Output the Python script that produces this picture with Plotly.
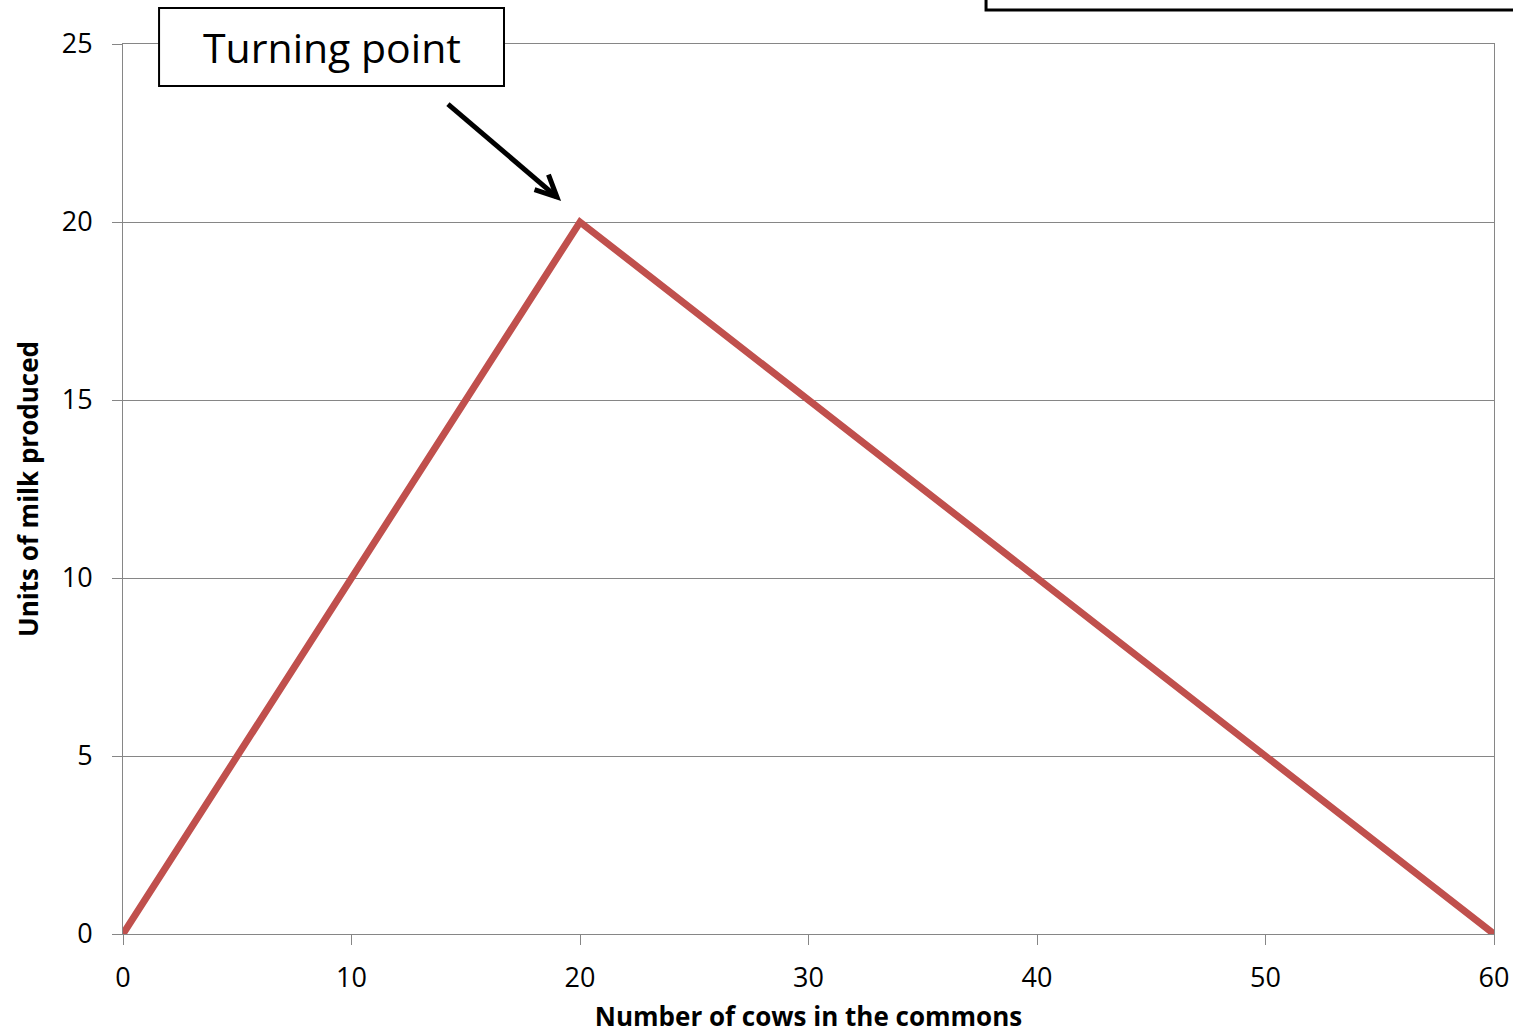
import plotly.graph_objects as go

# Milk output as the herd on the commons grows
cows = [0, 5, 10, 15, 20, 25, 30, 35, 40, 45, 50, 55, 60]
milk = [0, 5, 10, 15, 20, 17.5, 15, 12.5, 10, 7.5, 5, 2.5, 0]

x_ticks = [0, 10, 20, 30, 40, 50, 60]
y_ticks = [0, 5, 10, 15, 20, 25]

peak_label = "Turning point"
x_title = "Number of cows in the commons"
y_title = "Units of milk produced"

FONT = "Open Sans"
GRID = "#868686"

fig = go.Figure()
fig.add_trace(go.Scatter(
    x=cows, y=milk, mode="lines",
    line=dict(color="#C0504D", width=7),
    showlegend=False, hoverinfo="skip",
))

fig.update_xaxes(
    range=[0, 60], tickvals=x_ticks, ticks="outside", ticklen=10,
    tickcolor=GRID, showgrid=False, zeroline=False, automargin=False,
    showline=True, linecolor=GRID, linewidth=1, mirror=True,
    ticklabelstandoff=10,
    tickfont=dict(family=FONT, size=27, color="#000"),
    title=dict(text=f"<b>{x_title}</b>",
               font=dict(family=FONT, size=26, color="#000")),
)
fig.update_yaxes(
    range=[0, 25], tickvals=y_ticks, ticks="outside", ticklen=10,
    tickcolor=GRID, showgrid=True, gridcolor=GRID, gridwidth=1,
    zeroline=False, showline=True, linecolor=GRID, linewidth=1, mirror=True,
    automargin=True, ticklabelstandoff=14,
    tickfont=dict(family=FONT, size=27, color="#000"),
    title=dict(text=f"<b>{y_title}</b>", standoff=15,
               font=dict(family=FONT, size=26, color="#000")),
)

# Arrow pointing at the peak of the curve
tail = (14.22, 23.31)
tip = (18.99, 20.70)
shapes = [
    dict(type="line", xref="x", yref="y", x0=tail[0], y0=tail[1],
         x1=tip[0], y1=tip[1], line=dict(color="#000", width=5)),
    dict(type="path", xref="x", yref="y",
         path=f"M {18.62},{21.33} L {tip[0]},{tip[1]} L {18.01},{20.91}",
         line=dict(color="#000", width=5)),
    # label box for the peak
    dict(type="rect", xref="paper", yref="paper",
         x0=0.0263, x1=0.2779, y0=0.9528, y1=1.0404,
         fillcolor="#fff", line=dict(color="#000", width=2), layer="above"),
    # framed panel at the upper right
    dict(type="rect", xref="paper", yref="paper",
         x0=0.6295, x1=1.05, y0=1.0382, y1=1.2,
         fillcolor="rgba(0,0,0,0)", line=dict(color="#000", width=3)),
]

fig.add_annotation(
    x=0.1521, y=0.9966, xref="paper", yref="paper", showarrow=False,
    xanchor="center", yanchor="middle",
    text=peak_label, font=dict(family=FONT, size=41, color="#000"),
)

fig.update_layout(
    width=1513, height=1034,
    margin=dict(l=123, r=19, t=44, b=100),
    paper_bgcolor="#fff", plot_bgcolor="#fff",
    shapes=shapes,
)

fig.write_html("out.html")
